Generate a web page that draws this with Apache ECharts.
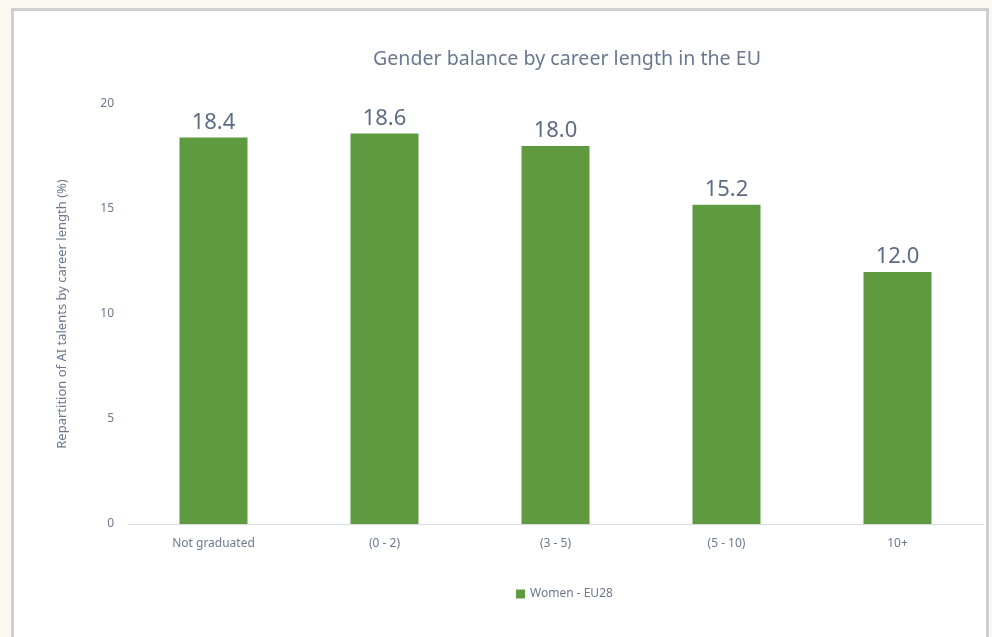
<!DOCTYPE html>
<html><head><meta charset="utf-8">
<script src="https://cdn.jsdelivr.net/npm/echarts@6/dist/echarts.min.js"></script>
<style>
html,body{margin:0;padding:0;background:#fbf8f1;width:992px;height:637px;overflow:hidden;}
#frame{position:absolute;left:11px;top:8px;width:972px;height:640px;border:3px solid #cfcfcf;background:#fff;}
#c{position:absolute;left:0;top:0;width:992px;height:637px;}
</style></head>
<body><div id="frame"></div><div id="c"></div>
<script>
const categories = ["Not graduated", "(0 - 2)", "(3 - 5)", "(5 - 10)", "10+"];
const womenEU28 = [18.4, 18.6, 18.0, 15.2, 12.0];
const yTicks = [0, 5, 10, 15, 20];

const txt = '#6a7890';
const font = '"Noto Sans", "Open Sans", sans-serif';
const chart = echarts.init(document.getElementById('c'), null, {renderer:'canvas'});
chart.setOption({
  backgroundColor: 'transparent',
  animation: false,
  title: {
    text: 'Gender balance by career length in the EU',
    left: 562, top: 44, textAlign: 'center',
    textStyle: {color: txt, fontSize: 19.6, fontWeight: 'normal', fontFamily: font}
  },
  legend: {
    data: ['Women - EU28'],
    left: 511, top: 583, itemWidth: 9, itemHeight: 9, itemGap: 4,
    icon: 'rect',
    textStyle: {color: txt, fontSize: 12, fontFamily: font}
  },
  grid: {left: 128, right: 9, top: 104, bottom: 113},
  xAxis: {
    type: 'category', data: categories,
    axisLine: {lineStyle: {color: '#d9dce6', width: 1}},
    axisTick: {show: false},
    axisLabel: {color: txt, fontSize: 12, fontFamily: font, margin: 14}
  },
  yAxis: {
    type: 'value', min: yTicks[0], max: yTicks[yTicks.length-1], interval: 5,
    name: 'Repartition of AI talents by career length (%)',
    nameLocation: 'middle', nameGap: 59,
    nameTextStyle: {color: txt, fontSize: 13, fontFamily: font},
    axisLine: {show: false}, axisTick: {show: false},
    splitLine: {show: false},
    axisLabel: {color: txt, fontSize: 12, fontFamily: font, margin: 14}
  },
  series: [{
    name: 'Women - EU28', type: 'bar', data: womenEU28,
    barWidth: 68,
    itemStyle: {color: '#5f9a40'},
    label: {show: true, position: 'top', distance: 4, color: '#5c6c84', fontSize: 22, fontFamily: font,
      formatter: p => p.value.toFixed(1)}
  }]
});
</script></body></html>
